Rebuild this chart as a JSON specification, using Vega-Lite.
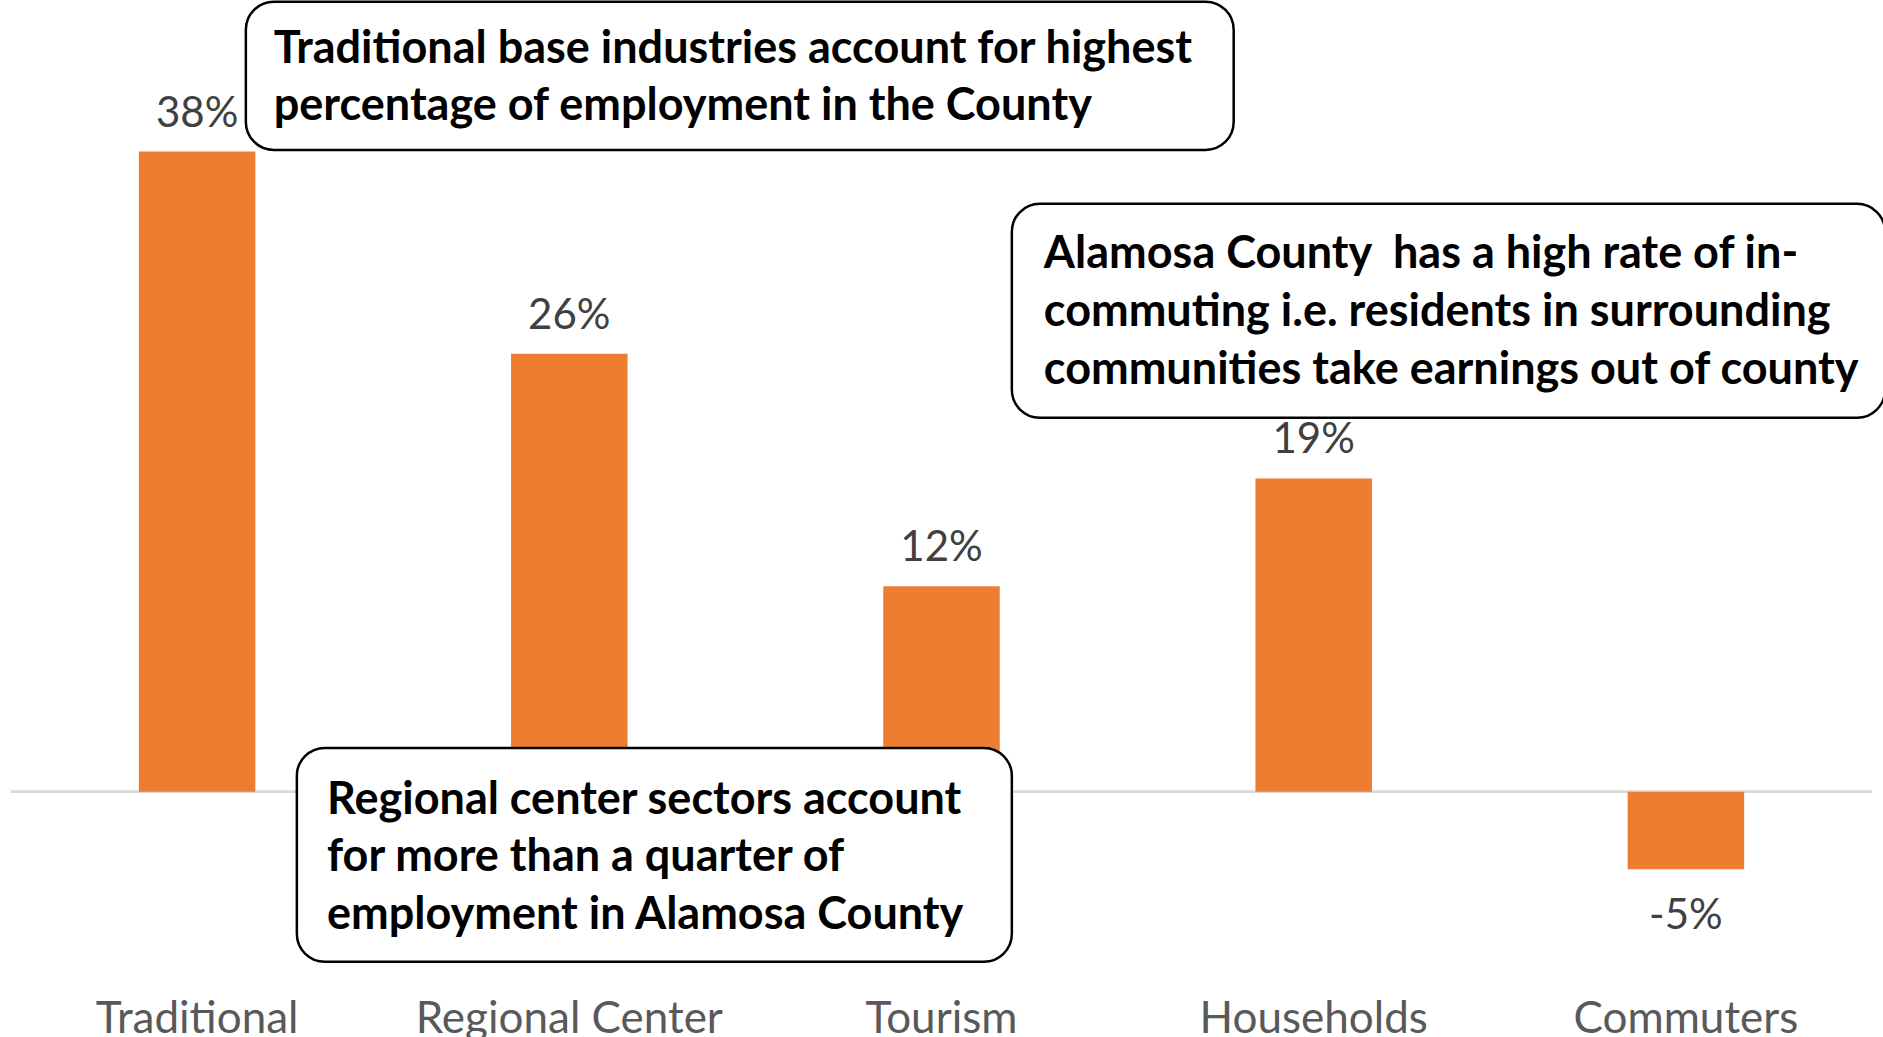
{
  "$schema": "https://vega.github.io/schema/vega-lite/v6.json",
  "autosize": {"type": "none"},
  "padding": {"left": 11, "top": 0, "right": 11, "bottom": 60},
  "width": 1861,
  "height": 977,
  "background": "white",
  "config": {"view": {"stroke": null}},
  "datasets": {
    "bars": [
      {"category": "Traditional", "value": 0.38, "label": "38%"},
      {"category": "Regional Center", "value": 0.26, "label": "26%"},
      {"category": "Tourism", "value": 0.122, "label": "12%"},
      {"category": "Households", "value": 0.186, "label": "19%"},
      {"category": "Commuters", "value": -0.046, "label": "-5%"}
    ],
    "boxes": [
      {"box": "a", "x0": 0.631, "x1": 3.285, "y0": 0.469, "y1": 0.381},
      {"box": "b", "x0": 2.689, "x1": 5.035, "y0": 0.349, "y1": 0.222},
      {"box": "c", "x0": 0.768, "x1": 2.689, "y0": 0.026, "y1": -0.101}
    ],
    "lines": [
      {"tx": 0.706, "ty": 0.4412, "text": "Traditional base industries account for highest"},
      {"tx": 0.706, "ty": 0.4068, "text": "percentage of employment in the County"},
      {"tx": 2.775, "ty": 0.3195, "text": "Alamosa County\u00a0 has a high rate of in-"},
      {"tx": 2.775, "ty": 0.2850, "text": "commuting i.e. residents in surrounding"},
      {"tx": 2.775, "ty": 0.2506, "text": "communities take earnings out of county"},
      {"tx": 0.849, "ty": -0.00475, "text": "Regional center sectors account"},
      {"tx": 0.849, "ty": -0.0386, "text": "for more than a quarter of"},
      {"tx": 0.849, "ty": -0.0730, "text": "employment in Alamosa County"}
    ]
  },
  "resolve": {"scale": {"x": "independent"}, "axis": {"x": "independent"}},
  "layer": [
    {
      "data": {"name": "bars"},
      "layer": [
        {
          "mark": {"type": "rule", "color": "#d9d9d9", "strokeWidth": 2},
          "encoding": {
            "y": {"datum": 0, "type": "quantitative", "scale": {"domain": [-0.11, 0.47], "nice": false, "zero": false}, "axis": null}
          }
        },
        {
          "mark": {"type": "bar", "color": "#ED7D31"},
          "encoding": {
            "x": {
              "field": "category", "type": "nominal", "sort": null,
              "scale": {"paddingInner": 0.687, "paddingOuter": 0.3435},
              "axis": {"title": null, "domain": false, "ticks": false, "labelAngle": 0, "labelFont": "Lato", "labelFontSize": 44, "labelColor": "#595959", "labelPadding": 20, "labelBaseline": "top", "labelLimit": 0}
            },
            "y": {"field": "value", "type": "quantitative", "scale": {"domain": [-0.11, 0.47], "nice": false, "zero": false}, "axis": null}
          }
        },
        {
          "transform": [{"filter": "datum.value >= 0"}],
          "mark": {"type": "text", "font": "Lato", "fontSize": 42, "color": "#404040", "baseline": "middle", "dy": -38},
          "encoding": {
            "x": {"field": "category", "type": "nominal", "sort": null},
            "y": {"field": "value", "type": "quantitative"},
            "text": {"field": "label", "type": "nominal"}
          }
        },
        {
          "transform": [{"filter": "datum.value < 0"}],
          "mark": {"type": "text", "font": "Lato", "fontSize": 42, "color": "#404040", "baseline": "middle", "dy": 47},
          "encoding": {
            "x": {"field": "category", "type": "nominal", "sort": null},
            "y": {"field": "value", "type": "quantitative"},
            "text": {"field": "label", "type": "nominal"}
          }
        }
      ]
    },
    {
      "layer": [
        {
          "data": {"name": "boxes"},
          "mark": {"type": "rect", "fill": "white", "stroke": "black", "strokeWidth": 2.5, "cornerRadius": 28, "clip": false},
          "encoding": {
            "x": {"field": "x0", "type": "quantitative", "scale": {"domain": [0, 5], "nice": false, "zero": false}, "axis": null},
            "x2": {"field": "x1"},
            "y": {"field": "y0", "type": "quantitative"},
            "y2": {"field": "y1"}
          }
        },
        {
          "data": {"name": "lines"},
          "mark": {"type": "text", "font": "Lato", "fontWeight": "bold", "fontSize": 45, "color": "black", "align": "left", "baseline": "middle"},
          "encoding": {
            "x": {"field": "tx", "type": "quantitative", "scale": {"domain": [0, 5], "nice": false, "zero": false}, "axis": null},
            "y": {"field": "ty", "type": "quantitative"},
            "text": {"field": "text"}
          }
        }
      ]
    }
  ]
}
